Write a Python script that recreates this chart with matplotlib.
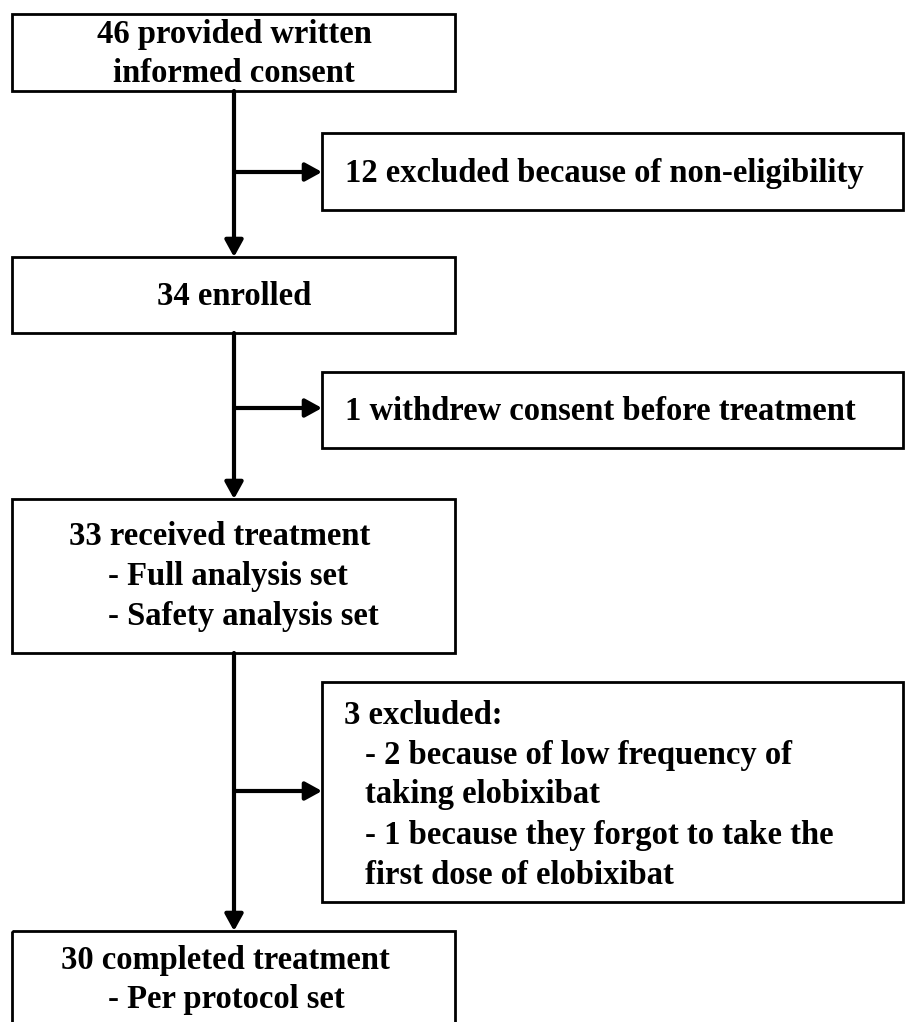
import matplotlib.pyplot as plt
from matplotlib.patches import Rectangle

# flow chart content
main_labels = [
    ["46 provided written", "informed consent"],
    ["34 enrolled"],
    ["33 received treatment", "  - Full analysis set", "  - Safety analysis set"],
    ["30 completed treatment", "  - Per protocol set"],
]
side_labels = [
    ["12 excluded because of non-eligibility"],
    ["1 withdrew consent before treatment"],
    ["3 excluded:", "  - 2 because of low frequency of", "  taking elobixibat",
     "  - 1 because they forgot to take the", "  first dose of elobixibat"],
]

# layout in pixels (x0, y0, x1, y1), y grows downward
main_boxes = [(12, 14, 455, 91), (12, 257, 455, 333), (12, 499, 455, 653), (12, 931, 455, 1040)]
side_boxes = [(322, 133, 903, 210), (322, 372, 903, 448), (322, 682, 903, 902)]
main_text_y = [[43, 82], [305], [545, 585, 625], [969, 1008]]   # baselines
main_text_x = [None, None, 69, 61]
side_text_x = [345, 345, 344]
side_text_y = [[182], [420], [724, 764, 803, 844, 884]]
branch_y = [172, 408, 791]
spine_x = 234

W, H = 905, 1022
fig = plt.figure(figsize=(W / 100, H / 100), dpi=100)
ax = fig.add_axes([0, 0, 1, 1])
ax.set_xlim(0, W)
ax.set_ylim(H, 0)
ax.axis('off')

font = dict(family='Liberation Serif', weight='bold', fontsize=23.5, color='black')


def draw_box(b):
    ax.add_patch(Rectangle((b[0], b[1]), b[2] - b[0], b[3] - b[1],
                           fill=False, edgecolor='black', lw=2))


for i, (b, lines) in enumerate(zip(main_boxes, main_labels)):
    draw_box(b)
    for j, (txt, y) in enumerate(zip(lines, main_text_y[i])):
        if main_text_x[i] is None:
            ax.text(spine_x, y, txt, ha='center', va='baseline', **font)
        else:
            x = main_text_x[i] if j == 0 else 108
            ax.text(x, y, txt.strip(), ha='left', va='baseline', **font)

for i, (b, lines) in enumerate(zip(side_boxes, side_labels)):
    draw_box(b)
    for j, (txt, y) in enumerate(zip(lines, side_text_y[i])):
        x = side_text_x[i] if not txt.startswith("  ") else 365
        ax.text(x, y, txt.strip(), ha='left', va='baseline', **font)

arrow = dict(arrowstyle='-|>,head_length=1.0,head_width=0.55', color='black', lw=3,
             shrinkA=0, shrinkB=0)

# vertical arrows between main boxes
for top, bottom in zip(main_boxes[:-1], main_boxes[1:]):
    ax.annotate('', xy=(spine_x, bottom[1]), xytext=(spine_x, top[3]), arrowprops=arrow)

# side branches
for y, b in zip(branch_y, side_boxes):
    ax.annotate('', xy=(b[0], y), xytext=(spine_x, y), arrowprops=arrow)

fig.savefig('out.png', dpi=100, facecolor='white')
